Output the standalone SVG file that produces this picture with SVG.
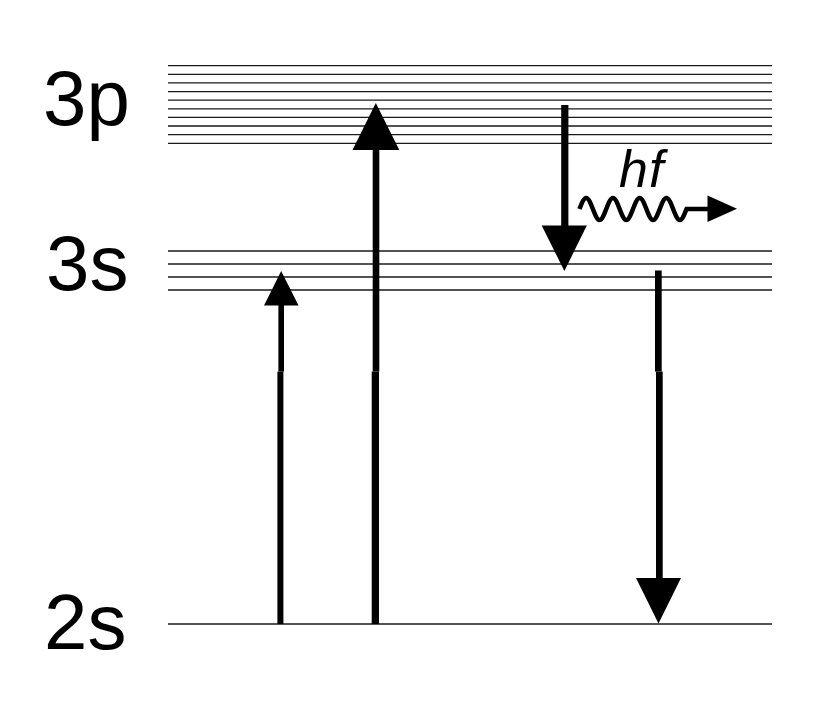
<svg xmlns="http://www.w3.org/2000/svg" width="814" height="710" viewBox="0 0 814 710">
  <style>
    .lvl { stroke: #1a1a1a; stroke-width: 1.3; fill: none; }
    .lbl { font-family: "Liberation Sans", Arial, Helvetica, sans-serif; font-size: 78px; fill: #000; }
    .shaft { fill: #000; }
    .head { fill: #000; }
    .wave { stroke: #000; stroke-width: 4.4; fill: none; stroke-linecap: butt; }
    .hf { font-family: "Liberation Sans", Arial, Helvetica, sans-serif; font-style: italic; font-size: 52px; letter-spacing: 1px; fill: #000; }
  </style>
  <rect width="814" height="710" fill="#fff"/>

  <g id="level-3p">
    <text class="lbl" x="43" y="125">3p</text>
    <path class="lvl" d="M168,65.7H772 M168,74.3H772 M168,82.9H772 M168,91.6H772 M168,100.2H772 M168,108.8H772 M168,117.4H772 M168,126H772 M168,134.7H772 M168,143.3H772"/>
  </g>

  <g id="level-3s">
    <text class="lbl" x="46" y="290">3s</text>
    <path class="lvl" d="M168,251H772 M168,264H772 M168,277H772 M168,290H772"/>
  </g>

  <g id="level-2s">
    <text class="lbl" x="44" y="649">2s</text>
    <path class="lvl" d="M168,624H772"/>
  </g>

  <g id="connectors">
    <!-- 2s -> 3s excitation -->
    <g id="arrow-2s-3s">
      <rect class="shaft" x="278.4" y="304" width="5.6" height="67.6"/>
      <rect class="shaft" x="277.4" y="371.6" width="6" height="252.4"/>
      <polygon class="head" points="281.2,271 298.5,305.5 264,305.5"/>
    </g>
    <!-- 2s -> 3p excitation -->
    <g id="arrow-2s-3p">
      <rect class="shaft" x="372.7" y="148" width="6.6" height="223.6"/>
      <rect class="shaft" x="371.7" y="371.6" width="7.3" height="252.4"/>
      <polygon class="head" points="375.8,103 399.3,150 352.5,150"/>
    </g>
    <!-- 3p -> 3s emission -->
    <g id="arrow-3p-3s">
      <rect class="shaft" x="561.2" y="105" width="7.2" height="122"/>
      <polygon class="head" points="541.7,225.5 586.8,225.5 564.4,271"/>
    </g>
    <!-- 3s -> 2s decay -->
    <g id="arrow-3s-2s">
      <rect class="shaft" x="655" y="270.5" width="6.7" height="101.1"/>
      <rect class="shaft" x="656" y="371.6" width="6.7" height="208"/>
      <polygon class="head" points="636,578 681,578 658.5,623.5"/>
    </g>
    <!-- photon -->
    <g id="photon">
      <path class="wave" d="M579.5,209
        c 2.181,-5.6 4.267,-11 6.6875,-11 c 2.4205,0 4.5065,5.4 6.6875,11 c 2.181,5.6 4.267,11 6.6875,11 c 2.4205,0 4.5065,-5.4 6.6875,-11
        c 2.181,-5.6 4.267,-11 6.6875,-11 c 2.4205,0 4.5065,5.4 6.6875,11 c 2.181,5.6 4.267,11 6.6875,11 c 2.4205,0 4.5065,-5.4 6.6875,-11
        c 2.181,-5.6 4.267,-11 6.6875,-11 c 2.4205,0 4.5065,5.4 6.6875,11 c 2.181,5.6 4.267,11 6.6875,11 c 2.4205,0 4.5065,-5.4 6.6875,-11
        c 2.181,-5.6 4.267,-11 6.6875,-11 c 2.4205,0 4.5065,5.4 6.6875,11 c 2.181,5.6 4.267,11 6.6875,11 c 2.4205,0 4.5065,-5.4 6.6875,-11
        L709,209"/>
      <polygon class="head" points="707.5,195.5 737,208.8 707.5,222"/>
      <text class="hf" x="619" y="187">hf</text>
    </g>
  </g>
</svg>
